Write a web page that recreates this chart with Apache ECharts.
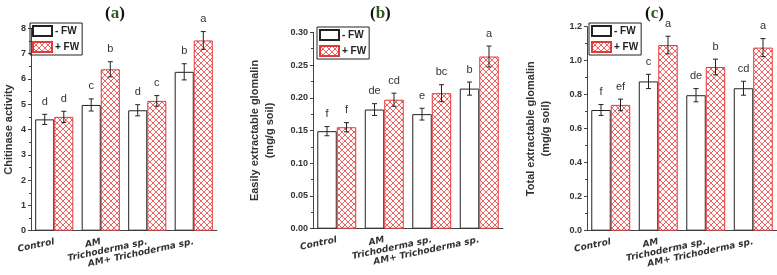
<!DOCTYPE html>
<html>
<head>
<meta charset="utf-8">
<script src="https://cdn.jsdelivr.net/npm/echarts@6/dist/echarts.min.js"></script>
<style>
  html, body { margin: 0; padding: 0; background: #fff; }
  #mychart { width: 777px; height: 275px; }
</style>
</head>
<body>
<div id="mychart"></div>
<script>
// categories (x axis)
const categories = ['Control', 'AM', 'Trichoderma sp.', 'AM+ Trichoderma sp.'];

// (a) chitinase activity
const chitMinus = [4.40, 4.97, 4.76, 6.28];
const chitPlus = [4.50, 6.38, 5.13, 7.52];
const chitMinusErr = [0.20, 0.24, 0.22, 0.32];
const chitPlusErr = [0.22, 0.30, 0.21, 0.35];
const chitMinusLetters = ['d', 'c', 'd', 'b'];
const chitPlusLetters = ['d', 'b', 'c', 'a'];

// (b) easily extractable glomalin
const eegMinus = [0.149, 0.182, 0.175, 0.214];
const eegPlus = [0.155, 0.197, 0.207, 0.263];
const eegMinusErr = [0.007, 0.009, 0.009, 0.010];
const eegPlusErr = [0.007, 0.010, 0.013, 0.016];
const eegMinusLetters = ['f', 'de', 'e', 'b'];
const eegPlusLetters = ['f', 'cd', 'bc', 'a'];

// (c) total extractable glomalin
const tegMinus = [0.71, 0.878, 0.797, 0.838];
const tegPlus = [0.74, 1.092, 0.963, 1.077];
const tegMinusErr = [0.032, 0.042, 0.039, 0.041];
const tegPlusErr = [0.034, 0.052, 0.046, 0.053];
const tegMinusLetters = ['f', 'c', 'de', 'cd'];
const tegPlusLetters = ['ef', 'a', 'b', 'a'];

// y ticks
const yTicksA = { min: 0, max: 8, interval: 1 };
const yTicksB = { min: 0, max: 0.30, interval: 0.05 };
const yTicksC = { min: 0, max: 1.2, interval: 0.2 };

// 红色网格填充
const pat = document.createElement('canvas');
pat.width = 6; pat.height = 6;
const ctx = pat.getContext('2d');
ctx.fillStyle = '#fff';
ctx.fillRect(0, 0, 6, 6);
ctx.strokeStyle = 'rgba(235,45,45,0.75)';
ctx.lineWidth = 1;
ctx.beginPath();
ctx.moveTo(0, 0); ctx.lineTo(6, 6);
ctx.moveTo(6, 0); ctx.lineTo(0, 6);
ctx.stroke();
const hatch = { image: pat, repeat: 'repeat' };

const CAT_GAP = 0.18;
const textColor = '#333';

const panels = [
  { tag: 'a', left: 29, width: 188, top: 28.3, height: 202.4, ticks: yTicksA, dec: 0,
    name: 'Chitinase activity', nameGap: 15,
    minus: chitMinus, plus: chitPlus, minusErr: chitMinusErr, plusErr: chitPlusErr,
    minusL: chitMinusLetters, plusL: chitPlusLetters,
    titleX: 100, legendX: 30, legendY: 23 },
  { tag: 'b', left: 313, width: 190, top: 32.3, height: 196.4, ticks: yTicksB, dec: 2,
    name: 'Easily extractable glomalin\n(mg/g soil)', nameGap: 36,
    minus: eegMinus, plus: eegPlus, minusErr: eegMinusErr, plusErr: eegPlusErr,
    minusL: eegMinusLetters, plusL: eegPlusLetters,
    titleX: 365, legendX: 317, legendY: 27 },
  { tag: 'c', left: 587, width: 191, top: 26.7, height: 204, ticks: yTicksC, dec: 1,
    name: 'Total extractable glomalin\n(mg/g soil)', nameGap: 34,
    minus: tegMinus, plus: tegPlus, minusErr: tegMinusErr, plusErr: tegPlusErr,
    minusL: tegMinusLetters, plusL: tegPlusLetters,
    titleX: 640, legendX: 589, legendY: 23 }
];

function errRender(letters, side) {
  return function (params, api) {
    const i = api.value(0), v = api.value(1), e = api.value(2);
    const band = api.size([1, 0])[0];
    const bw = band * (1 - CAT_GAP) / 2;
    const cx = api.coord([i, v])[0] + side * bw / 2;
    const yTop = api.coord([i, v + e])[1];
    const yBot = api.coord([i, v - e])[1];
    const st = { stroke: '#222', lineWidth: 1 };
    return {
      type: 'group',
      children: [
        { type: 'line', shape: { x1: cx, y1: yTop, x2: cx, y2: yBot }, style: st },
        { type: 'line', shape: { x1: cx - 2.5, y1: yTop, x2: cx + 2.5, y2: yTop }, style: st },
        { type: 'line', shape: { x1: cx - 2.5, y1: yBot, x2: cx + 2.5, y2: yBot }, style: st },
        { type: 'text', x: cx, y: yTop - 7,
          style: { text: letters[params.dataIndex], fill: textColor, fontSize: 11,
                   fontFamily: 'Arial', align: 'center', verticalAlign: 'bottom' } }
      ]
    };
  };
}

const option = { animation: false, title: [], legend: [], grid: [], xAxis: [], yAxis: [], series: [] };

panels.forEach(function (p, k) {
  option.title.push({
    left: p.titleX, top: 0,
    text: '{p|(}{l|' + p.tag + '}{p|)}',
    textStyle: {
      rich: {
        p: { fontFamily: 'Liberation Serif', fontWeight: 'bold', fontSize: 17, color: '#111' },
        l: { fontFamily: 'Liberation Serif', fontWeight: 'bold', fontSize: 17, color: '#2d5a1e' }
      }
    }
  });
  option.legend.push({
    left: p.legendX, top: p.legendY, orient: 'vertical',
    data: ['- FW', '+ FW'], icon: 'rect',
    borderColor: '#222', borderWidth: 1, borderRadius: 0,
    padding: [2, 3, 2, 2], itemGap: 4, itemWidth: 19, itemHeight: 10,
    selectedMode: false,
    textStyle: { fontFamily: 'Arial', fontWeight: 'bold', fontSize: 10, color: '#222', padding: [0, 0, 0, -2] }
  });
  option.grid.push({ left: p.left, width: p.width, top: p.top, height: p.height });
  option.xAxis.push({
    type: 'category', gridIndex: k, data: categories,
    axisLine: { lineStyle: { color: '#444' } },
    axisTick: { length: 3, lineStyle: { color: '#444' } },
    axisLabel: { rotate: 12, margin: 11, fontFamily: 'DejaVu Sans', fontStyle: 'italic',
                 fontWeight: 'bold', fontSize: 9, color: textColor, interval: 0 }
  });
  option.yAxis.push({
    type: 'value', gridIndex: k, min: p.ticks.min, max: p.ticks.max, interval: p.ticks.interval,
    name: p.name, nameLocation: 'middle', nameGap: p.nameGap,
    nameTextStyle: { fontFamily: 'Arial', fontWeight: 'bold', fontSize: 11, color: textColor, lineHeight: 15 },
    splitLine: { show: false },
    axisLine: { show: true, lineStyle: { color: '#444' } },
    axisTick: { show: true, length: 3, lineStyle: { color: '#444' } },
    minorTick: { show: true, splitNumber: 2, length: 2, lineStyle: { color: '#444' } },
    axisLabel: { margin: 5, fontFamily: 'Arial', fontWeight: 'bold', fontSize: 9, color: textColor,
                 formatter: function (v) { return v.toFixed(p.dec); } }
  });
  option.series.push({
    name: '- FW', type: 'bar', xAxisIndex: k, yAxisIndex: k, data: p.minus,
    barGap: '0%', barCategoryGap: (CAT_GAP * 100) + '%',
    itemStyle: { color: '#fff', borderColor: '#222', borderWidth: 1 }
  });
  option.series.push({
    name: '+ FW', type: 'bar', xAxisIndex: k, yAxisIndex: k, data: p.plus,
    barGap: '0%', barCategoryGap: (CAT_GAP * 100) + '%',
    itemStyle: { color: hatch, borderColor: '#e23a3a', borderWidth: 1 }
  });
  option.series.push({
    type: 'custom', xAxisIndex: k, yAxisIndex: k, z: 5,
    renderItem: errRender(p.minusL, -1),
    data: p.minus.map(function (v, i) { return [i, v, p.minusErr[i]]; })
  });
  option.series.push({
    type: 'custom', xAxisIndex: k, yAxisIndex: k, z: 5,
    renderItem: errRender(p.plusL, 1),
    data: p.plus.map(function (v, i) { return [i, v, p.plusErr[i]]; })
  });
});

const myChart = echarts.init(document.getElementById('mychart'));
myChart.setOption(option);
</script>
</body>
</html>
